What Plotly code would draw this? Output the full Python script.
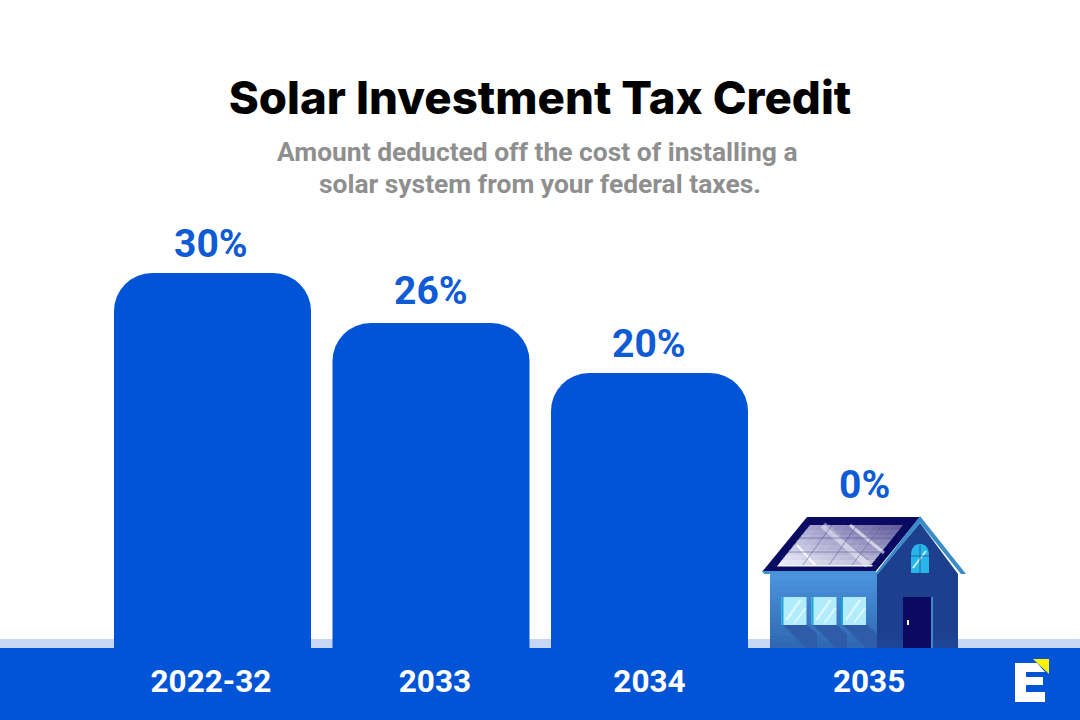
import plotly.graph_objects as go

years = ["2022-32", "2033", "2034", "2035"]
bar_height = [30, 26, 22, 0]  # third bar is drawn taller than its 20% label in the picture
labels = ["30%", "26%", "20%", "0%"]

BLUE = "#0254d6"
W, H = 1080, 720
BASE = 648  # pixel row of the zero line


def pt(x, y):
    # picture pixels -> paper coordinates of the plot area
    return x / W, (BASE - y) / BASE


def poly(points, color):
    p = [pt(x, y) for x, y in points]
    path = "M" + " L".join(f"{a:.5f},{b:.5f}" for a, b in p) + " Z"
    return dict(type="path", path=path, xref="paper", yref="paper", fillcolor=color,
                line=dict(width=0), layer="above")


def rect(x0, y0, x1, y1, color, layer="above"):
    a, b = pt(x0, y0)
    c, d = pt(x1, y1)
    return dict(type="rect", x0=a, y0=b, x1=c, y1=d, xref="paper", yref="paper",
                fillcolor=color, line=dict(width=0), layer=layer)


def seg(x0, y0, x1, y1, color, width=1.0, opacity=1.0):
    a, b = pt(x0, y0)
    c, d = pt(x1, y1)
    return dict(type="line", x0=a, y0=b, x1=c, y1=d, xref="paper", yref="paper", opacity=opacity,
                line=dict(color=color, width=width), layer="above")


def mix(c1, c2, t):
    a = [int(c1[i:i + 2], 16) for i in (1, 3, 5)]
    b = [int(c2[i:i + 2], 16) for i in (1, 3, 5)]
    return "#" + "".join(f"{round(u + (v - u) * t):02x}" for u, v in zip(a, b))


def house():
    s = []
    # left wall, banded to fake the gradient
    n = 12
    for i in range(n):
        y0 = 574 + (648 - 574) * i / n
        s.append(rect(770, y0, 877, 648, mix("#4b93dc", "#3068b2", i / (n - 1))))
    # window shadows
    for wx in (781, 811, 841):
        s.append(poly([(wx + 2, 625), (wx + 26, 625), (wx + 36, 634), (wx + 36, 648), (wx + 25, 648)], "#2f5ca6"))
    # right wall and gable
    s.append(poly([(877, 574), (920, 523), (958, 574), (958, 648), (877, 648)], "#1c3f8e"))
    for i in range(5):
        s.append(rect(877, 628 + 4 * i, 958, 648, mix("#1c3f8e", "#1f4696", i / 4)))
    # roof
    s.append(poly([(762, 572), (807, 517), (920, 517), (875, 572)], "#0b0a63"))
    s.append(poly([(762, 571), (875, 571), (877, 574), (764, 574)], "#4393d1"))
    s.append(poly([(875, 574), (920, 516), (966, 574), (961, 574), (920, 523), (878, 574)], "#3a8cc8"))
    # solar panel, cells blended across and down to fake the sheen
    top, bottom = 525, 565
    rows, cols = 8, 10
    for r in range(rows):
        for c in range(cols):
            t0, t1 = r / rows, min((r + 1.2) / rows, 1)
            u0, u1 = c / cols, min((c + 1.2) / cols, 1)
            y0, y1 = top + (bottom - top) * t0, top + (bottom - top) * t1
            left0, left1 = 810 - 32 * t0, 810 - 32 * t1
            span = 93
            shade = mix(mix("#a6a4cf", "#5d5898", u0), mix("#f0f2fb", "#c4c3de", u0), t0)
            s.append(poly([(left0 + span * u0, y0), (left0 + span * u1, y0),
                           (left1 + span * u1, y1), (left1 + span * u0, y1)], shade))
    s.append(seg(823, 525, 868, 565, "#ffffff", 7, 0.45))
    s.append(seg(850, 525, 884, 553, "#ffffff", 3, 0.6))
    s.append(seg(797, 545, 815, 565, "#ffffff", 2, 0.9))
    for x0, y0, x1, y1 in [(799, 538, 893, 538), (788, 552, 882, 552), (832, 525, 803, 565),
                           (857, 525, 829, 565), (882, 525, 852, 565), (826, 525, 868, 560)]:
        s.append(seg(x0, y0, x1, y1, "#5b5798", 1, 0.55))
    s.append(poly([(778, 565), (873, 565), (872, 566.5), (777, 566.5)], "#f4f6fc"))
    # arch window
    a, b = pt(911, 573)
    c, d = pt(929, 573)
    e, f = pt(911, 556)
    g, h = pt(929, 556)
    i_, j = pt(920, 544)
    k, l_ = pt(911, 544)
    m, o = pt(929, 544)
    s.append(dict(type="path", xref="paper", yref="paper", layer="above", fillcolor="#29b5ea", line=dict(width=0),
                  path=f"M{a:.5f},{b:.5f} L{e:.5f},{f:.5f} Q{k:.5f},{l_:.5f} {i_:.5f},{j:.5f} "
                       f"Q{m:.5f},{o:.5f} {g:.5f},{h:.5f} L{c:.5f},{d:.5f} Z"))
    s.append(seg(913, 568, 926, 551, "#c4f1fc", 2))
    s.append(seg(920, 545, 920, 573, "#16689f", 1))
    s.append(seg(911, 556, 929, 556, "#16689f", 1))
    # square windows
    for wx in (781.5, 811.5, 841):
        s.append(rect(wx, 597, wx + 25, 625, "#b0ecfc"))
        s.append(rect(wx, 597, wx + 2, 625, "#1aa6dd"))
        s.append(seg(wx + 5, 620, wx + 19, 600, "#dcf8ff", 2.5))
        s.append(seg(wx + 13, 623, wx + 24, 608, "#dcf8ff", 2))
    # door
    s.append(rect(903, 597, 932, 648, "#0b0a63"))
    s.append(rect(931, 597, 933, 648, "#3a8cc8"))
    s.append(rect(907, 620, 909, 625, "#ffffff"))
    return s


def logo():
    # E mark with the yellow corner, bottom right
    return [
        poly([(1033, 659), (1049, 659), (1049, 674)], "#fff200"),
        poly([(1015, 663), (1037, 663), (1045, 672), (1026, 672), (1026, 677), (1043, 677), (1043, 685),
              (1026, 685), (1026, 692), (1045, 692), (1045, 702), (1015, 702)], "#ffffff"),
    ]


shapes = [rect(0, 639, W, 648, "#c8d6f6", "below"), rect(0, 648, W, H, BLUE, "below")] + house() + logo()

fig = go.Figure(go.Bar(x=list(range(len(years))), y=bar_height, width=197 / 218.5,
                       marker=dict(color=BLUE, cornerradius=38, line=dict(width=0)), hoverinfo="skip"))

# labels sit at the bar top, the 0% one has to clear the house
label_shift = [29, 32, 29, 163]
label_nudge = [-1.5, 0, -0.5, -4]
label_font = dict(family="Roboto", size=39, color="#0f5bd6", weight=700)
annotations = [dict(x=i, y=v, text=t, showarrow=False, yshift=s, xshift=n, yanchor="middle", font=label_font)
               for i, (v, t, s, n) in enumerate(zip(bar_height, labels, label_shift, label_nudge))]

sub_font = dict(family="Roboto", size=26.4, color="#8f8f8f", weight=700)
annotations += [
    dict(x=537 / W, y=(BASE - 152) / BASE, xref="paper", yref="paper", yanchor="middle",
         text="Amount deducted off the cost of installing a", showarrow=False, font=sub_font),
    dict(x=540 / W, y=(BASE - 184) / BASE, xref="paper", yref="paper", yanchor="middle",
         text="solar system from your federal taxes.", showarrow=False, font=sub_font),
]

tick_nudge = [-0.007, 0.018, 0, 0.005]

fig.update_layout(
    width=W, height=H, margin=dict(l=0, r=0, t=0, b=H - BASE, pad=0),
    paper_bgcolor="white", plot_bgcolor="white", showlegend=False,
    title=dict(text="Solar Investment Tax Credit", x=540 / W, xanchor="center", y=1 - 98 / H, yanchor="middle",
               font=dict(family="Inter", size=45.6, color="#000000", weight=800)),
    xaxis=dict(range=[-212.5 / 218.5, 867.5 / 218.5], tickmode="array",
               tickvals=[i + n for i, n in enumerate(tick_nudge)], ticktext=years,
               tickfont=dict(family="Roboto", size=31.5, color="white", weight=700),
               ticks="outside", ticklen=5, tickcolor="rgba(0,0,0,0)", showgrid=False, zeroline=False, showline=False),
    yaxis=dict(range=[0, BASE / 12.5], visible=False),
    shapes=shapes, annotations=annotations,
)

fig.write_html("out.html", config={"displayModeBar": False}, post_script="document.body.style.margin='0';")
